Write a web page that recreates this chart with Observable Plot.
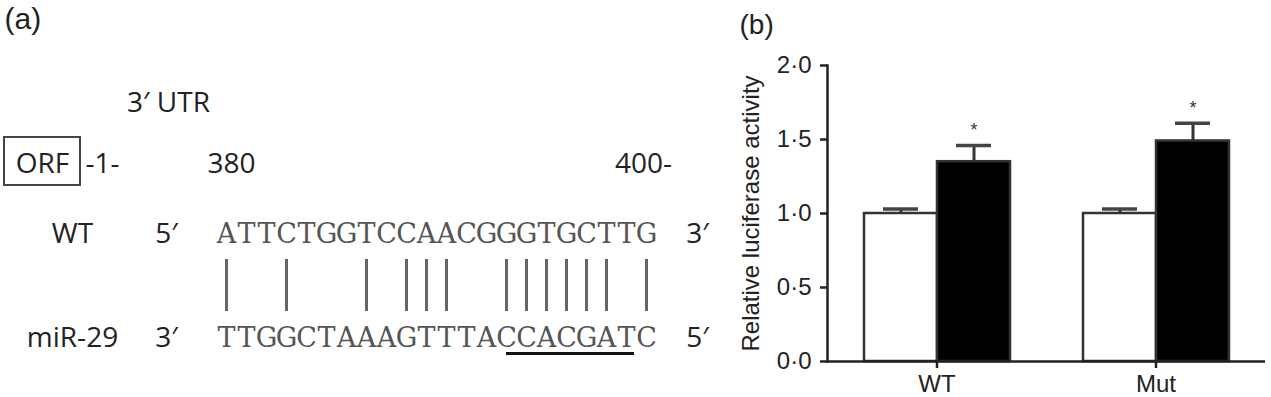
<!DOCTYPE html>
<html>
<head>
<meta charset="utf-8">
<script src="https://cdn.jsdelivr.net/npm/d3@7"></script>
<script src="https://cdn.jsdelivr.net/npm/@observablehq/plot@0.6"></script>
<style>
  html, body { margin: 0; padding: 0; background: #fff; }
  #wrap { display: flex; flex-direction: row; width: 1271px; height: 397px; }
  #wrap svg { display: block; }
</style>
</head>
<body>
<div id="wrap"></div>
<script>
// ---------- DATA: panel (a) ----------
const wtSeq  = "ATTCTGGTCCAACGGGTGCTTG".split("");
const mirSeq = "TTGGCTAAAGTTTACCACGATC".split("");
const seedRange = [15, 21];              // underlined seed, nucleotide positions
const headerLabels = ["ORF", "-1-", "3′ UTR"];
const positionLabels = ["380", "400-"];
const rowLabels = ["WT", "miR-29"];
const leftEnds = ["5′", "3′"];
const rightEnds = ["3′", "5′"];

// ---------- DATA: panel (b) ----------
const groups = ["WT", "Mut"];
const conditions = ["Control", "miR-29"];
const controlMean = [1.00, 1.00];
const controlSem  = [0.03, 0.03];
const mirMean = [1.35, 1.49];
const mirSem  = [0.11, 0.12];
const mirSignificant = [true, true];
const yTicks = [0, 0.5, 1, 1.5, 2];
const yLabel = "Relative luciferase activity";

// ---------- layout (panel a): x in nucleotide units, y in row units ----------
const colA = {orfLeft: -10.1, orfRight: -6.3, orf: -8.2, one: -5.2, utr: -1.9,
              rowLabel: -6.7, endLeft: -2.0, endRight: 24.55, pos380: 1.25, pos400: 21.85, panel: -10.1};
const rowA = {panel: 28, utr: 111, boxTop: 137, boxBottom: 185, pos: 172,
              seq: [242, 346], pairTop: 259, pairBottom: 311, seed: 353};

const complement = {A: "T", T: "A", G: "C", C: "G"};
const letters = [
  ...wtSeq.map((b, i) => ({row: 0, pos: i + 1, base: b})),
  ...mirSeq.map((b, i) => ({row: 1, pos: i + 1, base: b}))
];
const pairs = wtSeq.map((b, i) => complement[b] === mirSeq[i] ? i + 1 : null).filter(d => d !== null);

const labelFont = "'Open Sans', 'Noto Sans', sans-serif";
const seqFont = "'DejaVu Serif', 'Liberation Serif', serif";

const panelA = Plot.plot({
  width: 720, height: 397, margin: 0,
  x: {domain: [1 - 226 / 20, 1 + 494 / 20], axis: null},
  y: {domain: [0, 397], range: [0, 397], axis: null},
  style: {background: "white"},
  marks: [
    Plot.text(["(a)"], {x: colA.panel, y: rowA.panel, text: d => d, textAnchor: "start", lineAnchor: "bottom",
      fontFamily: "'Liberation Sans', Arial, sans-serif", fontSize: 30, fill: "#222"}),
    Plot.rect([headerLabels[0]], {x1: colA.orfLeft, x2: colA.orfRight, y1: rowA.boxTop, y2: rowA.boxBottom,
      fill: "none", stroke: "#444", strokeWidth: 2}),
    Plot.text(headerLabels, {x: (d, i) => [colA.orf, colA.one, colA.utr][i], y: (d, i) => i < 2 ? rowA.pos : rowA.utr,
      text: d => d, lineAnchor: "bottom", fontFamily: labelFont, fontSize: 28, fill: "#222"}),
    Plot.text(positionLabels, {x: (d, i) => [colA.pos380, colA.pos400][i], y: rowA.pos, text: d => d,
      textAnchor: (d, i) => i === 0 ? "middle" : "start", lineAnchor: "bottom",
      fontFamily: labelFont, fontSize: 28, fill: "#222"}),
    Plot.text(rowLabels, {x: colA.rowLabel, y: (d, i) => rowA.seq[i], text: d => d, lineAnchor: "bottom",
      fontFamily: labelFont, fontSize: 28, fill: "#222"}),
    Plot.text(leftEnds, {x: colA.endLeft, y: (d, i) => rowA.seq[i], text: d => d, lineAnchor: "bottom",
      fontFamily: labelFont, fontSize: 28, fill: "#222"}),
    Plot.text(rightEnds, {x: colA.endRight, y: (d, i) => rowA.seq[i], text: d => d, lineAnchor: "bottom",
      fontFamily: labelFont, fontSize: 28, fill: "#222"}),
    Plot.text(letters, {x: "pos", y: d => rowA.seq[d.row], text: "base", lineAnchor: "bottom",
      fontFamily: seqFont, fontSize: 27, fill: "#555"}),
    Plot.ruleX(pairs, {x: d => d, y1: rowA.pairTop, y2: rowA.pairBottom, stroke: "#666", strokeWidth: 3}),
    Plot.ruleY([seedRange], {x1: d => d[0], x2: d => d[1], y: rowA.seed, stroke: "#111", strokeWidth: 3, insetRight: -8})
  ]
});

// ---------- panel (b) ----------
const barData = [];
groups.forEach((g, i) => {
  barData.push({group: g, cond: conditions[0], mean: controlMean[i], sem: controlSem[i], sig: false});
  barData.push({group: g, cond: conditions[1], mean: mirMean[i], sem: mirSem[i], sig: mirSignificant[i]});
});
const fmt = d => d3.format(".1f")(d).replace(".", "·");
const ink = "#222";

const panelB = Plot.plot({
  width: 551, height: 397,
  marginLeft: 106, marginRight: 6, marginTop: 65, marginBottom: 36,
  style: {fontFamily: "'Liberation Sans', Arial, sans-serif", fontSize: "24px", color: ink, background: "white"},
  fx: {domain: groups, padding: 0, axis: null, label: null},
  x: {domain: conditions, paddingInner: 0, paddingOuter: 0.5, axis: null},
  y: {domain: [0, 2], axis: null},
  color: {domain: conditions, range: ["white", "black"]},
  marks: [
    Plot.barY(barData, {fx: "group", x: "cond", y: "mean", fill: "cond", stroke: "#333", strokeWidth: 2.5}),
    Plot.ruleX(barData, {fx: "group", x: "cond", y1: "mean", y2: d => d.mean + d.sem, stroke: "#333", strokeWidth: 3}),
    Plot.tickY(barData, {fx: "group", x: "cond", y: d => d.mean + d.sem, stroke: "#444", strokeWidth: 3.5,
      insetLeft: 19, insetRight: 19}),
    Plot.text(barData.filter(d => d.sig), {fx: "group", x: "cond", y: d => d.mean + d.sem, text: () => "*",
      lineAnchor: "bottom", dy: -9, fontSize: 18, fill: "#333"}),
    Plot.ruleY([0], {stroke: ink, strokeWidth: 2.5}),
    Plot.frame({anchor: "left", facetAnchor: "left", stroke: ink, strokeWidth: 2.5}),
    Plot.axisY({ticks: yTicks, tickFormat: fmt, tickSize: 7, tickPadding: 9, strokeWidth: 2.5, stroke: ink,
      fontSize: 24, label: yLabel, labelAnchor: "center", labelOffset: 86, labelArrow: "none"}),
    Plot.axisFx({anchor: "bottom", tickSize: 7, tickPadding: 6, strokeWidth: 2.5, stroke: ink, fontSize: 24, label: null}),
    Plot.text(["(b)"], {frameAnchor: "top-left", facetAnchor: "left", text: d => d, dx: -88, dy: -32,
      textAnchor: "start", lineAnchor: "bottom", fontSize: 28, fill: ink})
  ]
});

const wrap = document.getElementById("wrap");
wrap.appendChild(panelA);
wrap.appendChild(panelB);
</script>
</body>
</html>
